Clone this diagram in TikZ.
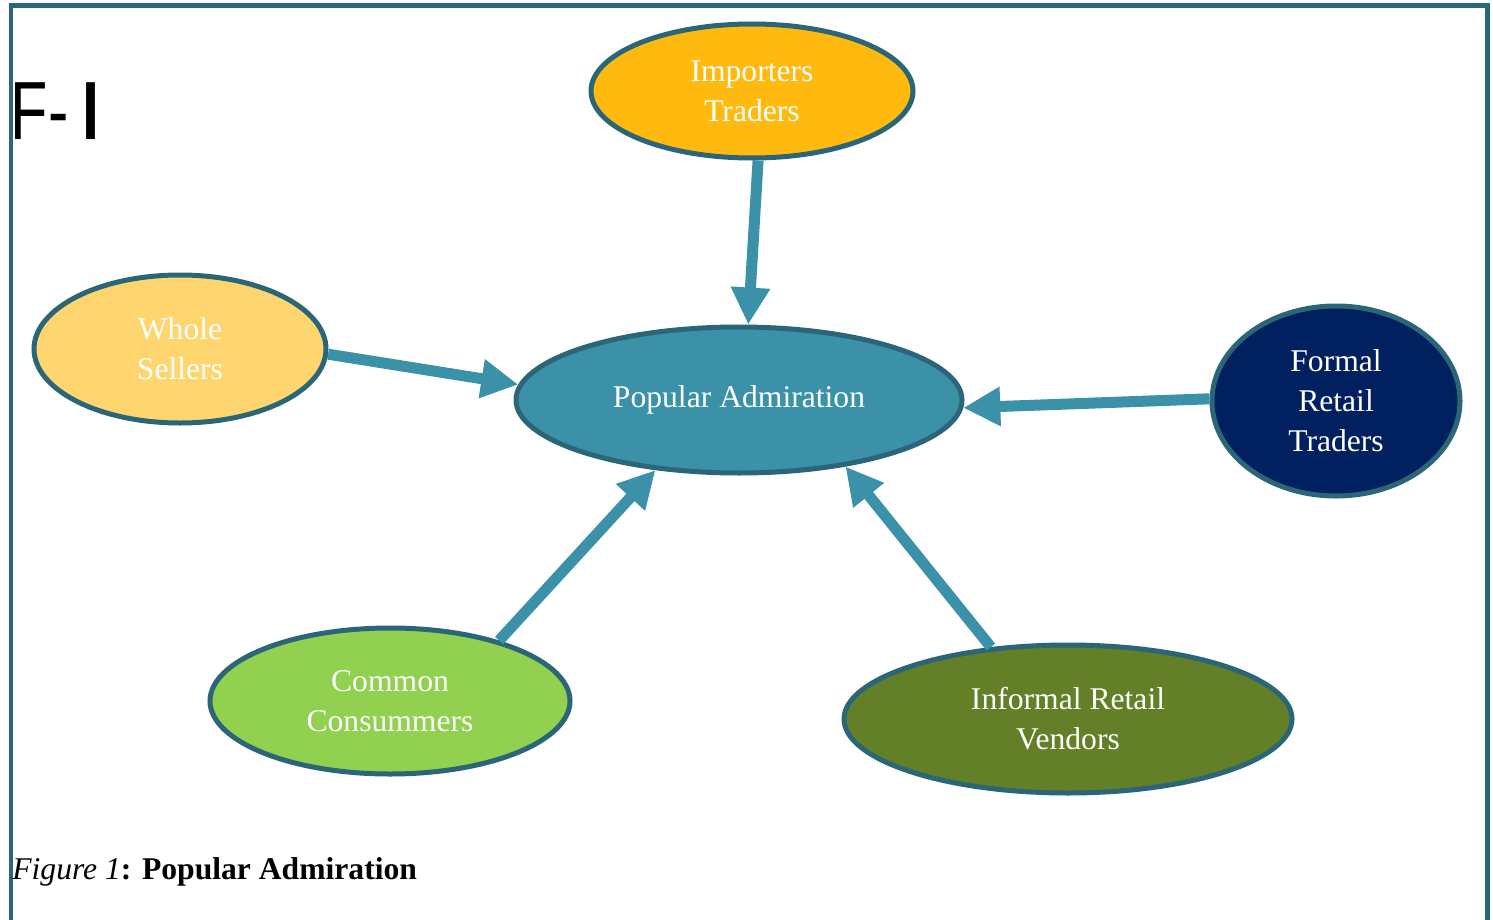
\documentclass[tikz,border=0pt]{standalone}
\usepackage{fontspec}
\setmainfont{Liberation Serif}
\newfontfamily\gillish{Liberation Sans}
\usetikzlibrary{shapes.geometric,arrows.meta}
\definecolor{frameteal}{HTML}{27687A}
\definecolor{edgeteal}{HTML}{2A6678}
\definecolor{arrowteal}{HTML}{3A91A8}
\definecolor{popfill}{HTML}{3A91A8}
\definecolor{impfill}{HTML}{FFB90F}
\definecolor{wsfill}{HTML}{FFD56F}
\definecolor{frtfill}{HTML}{002060}
\definecolor{ccfill}{HTML}{92D050}
\definecolor{irvfill}{HTML}{637F27}
\begin{document}
\begin{tikzpicture}[x=0.02cm,y=-0.02cm,
  bubble/.style={ellipse,draw=edgeteal,line width=0.1cm,inner sep=0pt,
    text=white,align=center,font=\fontsize{18}{22.7}\selectfont},
  link/.style={draw=arrowteal,line width=0.22cm,
    -{Triangle[width=0.74cm,length=0.74cm]}}]
\useasboundingbox (0,0) rectangle (1493,919);
\draw[frameteal,line width=0.1cm] (11,925) -- (11,6) -- (1487,6) -- (1487,925);
\node[anchor=base west,inner sep=0pt,font=\gillish\fontsize{47}{47}\selectfont] (fi) at (10,139) {\scalebox{0.74}[1]{F\kern1pt- \kern-3pt\textbf{I}}};
\node[bubble,fill=popfill,minimum width=446*0.02cm,minimum height=146*0.02cm] (pop) at (739,400) {Popular Admiration};
\node[bubble,fill=impfill,minimum width=322*0.02cm,minimum height=134*0.02cm] (imp) at (752,91) {Importers\\Traders};
\node[bubble,fill=wsfill,minimum width=292*0.02cm,minimum height=148*0.02cm] (ws) at (180,349) {Whole\\Sellers};
\node[bubble,fill=frtfill,minimum width=248*0.02cm,minimum height=190*0.02cm] (frt) at (1336,401) {Formal\\Retail\\Traders};
\node[bubble,fill=ccfill,minimum width=360*0.02cm,minimum height=146*0.02cm] (cc) at (390,701) {Common\\Consummers};
\node[bubble,fill=irvfill,minimum width=448*0.02cm,minimum height=148*0.02cm] (irv) at (1068,719) {Informal Retail\\Vendors};
\draw[link] (imp.275) -- (pop.83);
\draw[link] (ws.-2) -- (pop.176);
\draw[link] (frt.179.5) -- (pop.-2);
\draw[link] (cc.29) -- (pop.220);
\draw[link] (irv.137) -- (pop.-32);
\node[anchor=base west,inner sep=0pt,font=\fontsize{18}{20}\selectfont] (cap) at (12,879) {\textit{Figure 1}\textbf{: Popular Admiration}};
\end{tikzpicture}
\end{document}
